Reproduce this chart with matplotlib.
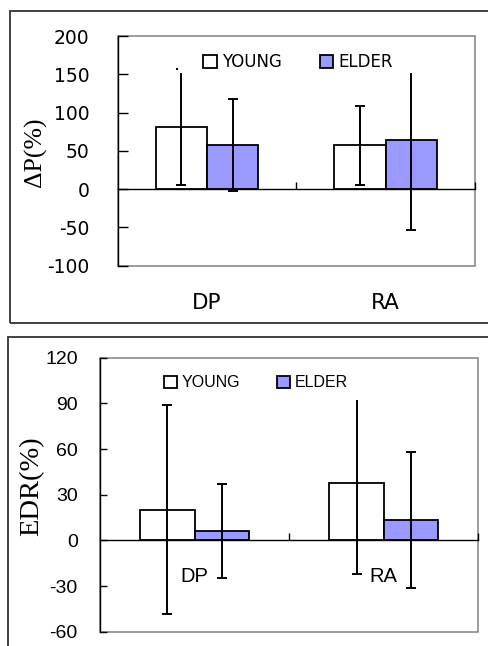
import matplotlib.pyplot as plt
from matplotlib.patches import Patch, Rectangle
import numpy as np

# datos
grupos = ["DP", "RA"]
series = ["YOUNG", "ELDER"]

dp_young = [81, 57]      # Delta P (%) young: DP, RA
dp_elder = [58, 64]
dp_young_err = [76, 52]
dp_elder_err = [60, 117]

edr_young = [20, 37.6]   # EDR (%) young: DP, RA
edr_elder = [6.3, 13.3]
edr_young_err = [68.6, 59.7]
edr_elder_err = [30.9, 44.7]

top_ticks = [-100, -50, 0, 50, 100, 150, 200]
bot_ticks = [-60, -30, 0, 30, 60, 90, 120]

W, H = 488, 646
fig = plt.figure(figsize=(W / 100, H / 100), dpi=100)

# marcos exteriores
fig.patches.append(Rectangle((10 / W, 1 - 323 / H), 1.2, (323 - 11) / H, transform=fig.transFigure,
                             fill=False, edgecolor="#333333", lw=1.3, clip_on=False))
fig.patches.append(Rectangle((8.3 / W, -0.2), 1.2, 0.2 + 1 - 336.7 / H, transform=fig.transFigure,
                             fill=False, edgecolor="#333333", lw=1.3, clip_on=False))


def panel(rect, young, elder, young_err, elder_err, yticks, tick_font, tick_size, tick_len,
          tick_pad, cat_font, cat_size, cat_y, leg_font, leg_size, leg_xy, cover):
    ax = fig.add_axes(rect)
    x = np.arange(len(grupos))
    w = 0.287
    ax.bar(x - w / 2, young, w, color="white", edgecolor="black", lw=1.3, zorder=2)
    ax.bar(x + w / 2, elder, w, color="#9999FF", edgecolor="black", lw=1.3, zorder=2)
    ax.errorbar(x - w / 2, young, yerr=young_err, fmt="none", ecolor="black", elinewidth=1.4,
                capsize=3.6, capthick=1.4, zorder=3)
    ax.errorbar(x + w / 2, elder, yerr=elder_err, fmt="none", ecolor="black", elinewidth=1.4,
                capsize=3.6, capthick=1.4, zorder=3)

    ax.set_xlim(-0.5, 1.5)
    ax.set_ylim(yticks[0], yticks[-1])
    ax.set_yticks(yticks)
    ax.set_yticklabels([str(t) for t in yticks], family=tick_font, fontsize=tick_size)
    ax.tick_params(axis="y", direction="in", length=tick_len, width=1, pad=tick_pad, color="black")

    ax.spines["bottom"].set_position(("data", 0))
    ax.spines["bottom"].set_linewidth(1)
    ax.spines["left"].set_linewidth(1)
    ax.spines["top"].set_visible(False)
    ax.spines["right"].set_visible(False)
    ax.set_xticks([0.5, 1.5])
    ax.set_xticklabels([])
    ax.tick_params(axis="x", direction="in", length=5, width=1, color="black")
    ax.add_patch(Rectangle((0, 0), 1, 1, transform=ax.transAxes, fill=False,
                           edgecolor="#808080", lw=1.1, zorder=1, clip_on=False))

    for i, g in enumerate(grupos):
        ax.text(i, cat_y, g, transform=ax.get_xaxis_transform(), ha="center", va="center",
                family=cat_font, fontsize=cat_size)

    # el recuadro blanco de la leyenda tapa las barras de error
    ax.add_patch(Rectangle((cover[0], cover[1]), cover[2] - cover[0], cover[3] - cover[1],
                           transform=ax.transAxes, facecolor="white", edgecolor="none", zorder=4))
    handles = [Patch(facecolor="white", edgecolor="black", lw=1.3),
               Patch(facecolor="#9999FF", edgecolor="black", lw=1.3)]
    leg = ax.legend(handles, series, loc="center", bbox_to_anchor=leg_xy, ncol=2, frameon=False,
                    handlelength=0.8, handleheight=0.8, handletextpad=0.3, columnspacing=2.3,
                    borderpad=0.1, prop={"family": leg_font, "size": leg_size})
    leg.set_zorder(5)
    return ax


ax1 = panel([117.7 / W, 1 - 265.7 / H, (475 - 117.7) / W, (265.7 - 36) / H],
            dp_young, dp_elder, dp_young_err, dp_elder_err, top_ticks,
            "DejaVu Sans", 13.5, 7.2, 20.5, "DejaVu Sans", 15.5, -0.162,
            "DejaVu Sans", 12, (0.505, 0.887), (0.169, 0.838, 0.838, 0.945))

ax2 = panel([100 / W, 1 - 631.7 / H, (478.3 - 100) / W, (631.7 - 357.7) / H],
            edr_young, edr_elder, edr_young_err, edr_elder_err, bot_ticks,
            "Liberation Sans", 14, 4.8, 16, "Liberation Sans", 14.5, 0.203,
            "Liberation Sans", 11.5, (0.412, 0.908), (0.132, 0.846, 0.700, 0.970))

fig.text(35 / W, 1 - 152 / H, "ΔP(%)", rotation=90, ha="center", va="center",
         family="Liberation Serif", fontsize=18.5)
fig.text(32 / W, 1 - 486 / H, "EDR(%)", rotation=90, ha="center", va="center",
         family="Liberation Serif", fontsize=20.5)

fig.savefig("out.png", dpi=100)
